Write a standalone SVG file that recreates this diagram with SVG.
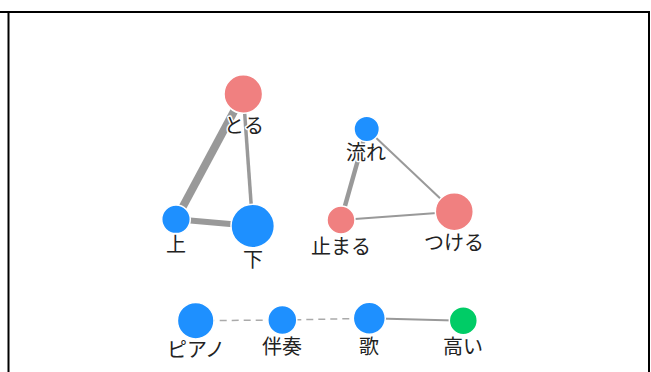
<svg xmlns="http://www.w3.org/2000/svg" width="651" height="372" viewBox="0 0 651 372">
<style>
.frame{stroke:#000;stroke-width:2;fill:none}
.edge{stroke:#999;fill:none;stroke-linecap:butt}
.dash{stroke:#aaa;stroke-width:1.5;stroke-dasharray:7,5;fill:none}
.node circle{stroke:#fff;stroke-width:1.5}
.blue{fill:#1e90ff}
.red{fill:#f08080}
.green{fill:#00cc66}
.node text{font-family:"Noto Sans CJK JP","Noto Sans",sans-serif;font-size:20px;fill:#222;text-anchor:middle;stroke:#fff;stroke-width:3;paint-order:stroke;stroke-linejoin:round}
</style>
<rect width="651" height="372" fill="#fff"/>
<g id="frame">
<line class="frame" x1="0" y1="12" x2="650" y2="12"/>
<line class="frame" x1="8.5" y1="11" x2="8.5" y2="372"/>
<line class="frame" x1="649" y1="11" x2="649" y2="372"/>
</g>
<g id="connectors">
<line class="edge" x1="243.3" y1="94" x2="176" y2="219.3" stroke-width="8"/>
<line class="edge" x1="176" y1="219.3" x2="252.7" y2="226" stroke-width="6"/>
<line class="edge" x1="243.3" y1="94" x2="252.7" y2="226" stroke-width="3.5"/>
<line class="edge" x1="366.7" y1="129" x2="341" y2="220" stroke-width="4.5"/>
<line class="edge" x1="366.7" y1="129" x2="454.3" y2="211.7" stroke-width="2"/>
<line class="edge" x1="341" y1="220" x2="454.3" y2="211.7" stroke-width="2"/>
<line class="dash" x1="195.7" y1="320.7" x2="282.3" y2="320"/>
<line class="dash" x1="282.3" y1="320" x2="369.3" y2="318.3"/>
<line class="edge" x1="369.3" y1="318.3" x2="463.3" y2="320.7" stroke-width="2"/>
</g>
<g id="n-toru" class="node"><circle class="red" cx="243.3" cy="94" r="19.3"/><text x="244" y="132.5">とる</text></g>
<g id="n-ue" class="node"><circle class="blue" cx="176" cy="219.3" r="14.3"/><text x="176" y="252">上</text></g>
<g id="n-shita" class="node"><circle class="blue" cx="252.7" cy="226" r="21.7"/><text x="253" y="266.5">下</text></g>
<g id="n-nagare" class="node"><circle class="blue" cx="366.7" cy="129" r="12.7"/><text x="366" y="160">流れ</text></g>
<g id="n-tomaru" class="node"><circle class="red" cx="341" cy="220" r="14"/><text x="341" y="253.5">止まる</text></g>
<g id="n-tsukeru" class="node"><circle class="red" cx="454.3" cy="211.7" r="19"/><text x="454" y="249.5">つける</text></g>
<g id="n-piano" class="node"><circle class="blue" cx="195.7" cy="320.7" r="18.3"/><text x="196" y="357">ピアノ</text></g>
<g id="n-bansou" class="node"><circle class="blue" cx="282.3" cy="320" r="14.5"/><text x="282" y="354">伴奏</text></g>
<g id="n-uta" class="node"><circle class="blue" cx="369.3" cy="318.3" r="16"/><text x="369" y="353.5">歌</text></g>
<g id="n-takai" class="node"><circle class="green" cx="463.3" cy="320.7" r="14"/><text x="463" y="354">高い</text></g>
</svg>
